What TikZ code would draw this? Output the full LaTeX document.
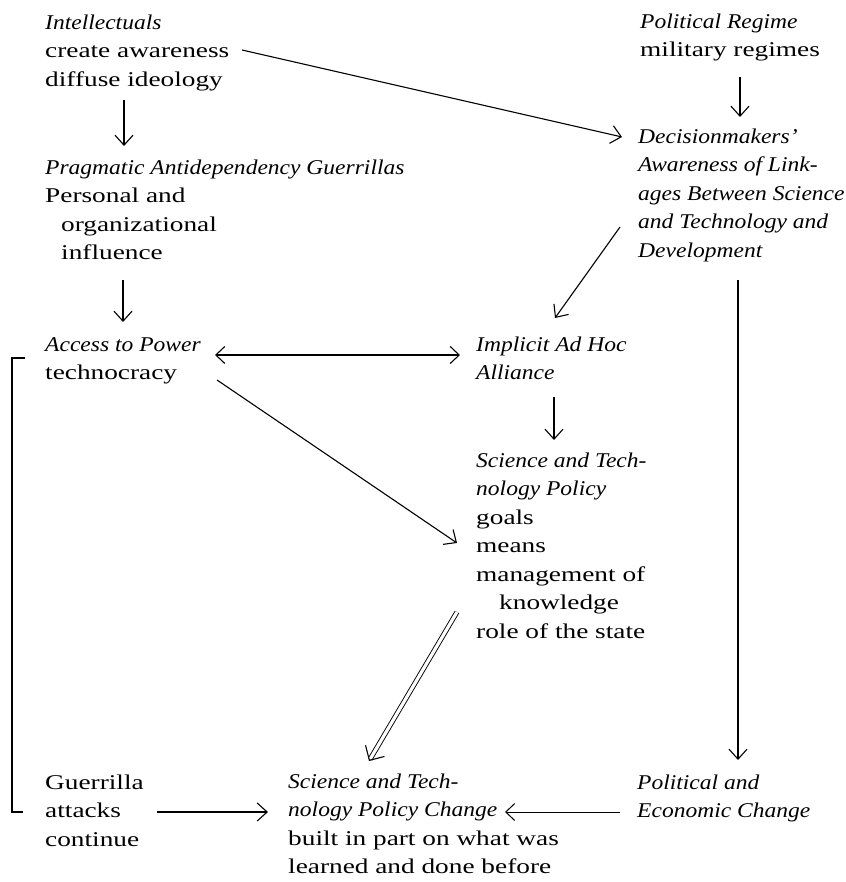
\documentclass[tikz,border=0pt]{standalone}
\usepackage{fontspec}
\setmainfont{Liberation Serif}[UprightFeatures={FakeStretch=1.3},ItalicFeatures={FakeStretch=1.12}]
\usetikzlibrary{arrows.meta,calc}
\newcommand\mystrut{\rule{0pt}{16pt}}
\tikzset{
  txt/.style={anchor=north west, inner sep=0pt, align=left, font=\fontsize{21}{28.5}\selectfont},
  arr/.style={line width=1.1pt, -{Straight Barb[length=10pt,width=18pt,line width=1.1pt]}},
  thinarr/.style={line width=0.7pt, -{Straight Barb[length=9pt,width=17pt,line width=1pt]}},
  dblarr/.style={line width=1.1pt, {Straight Barb[length=9pt,width=17pt,line width=1.1pt]}-{Straight Barb[length=9pt,width=17pt,line width=1.1pt]}},
  dblline/.style={double, double distance=3.2pt, line width=0.9pt},
  bigbarb/.style={line width=1.1pt, -{Straight Barb[length=11pt,width=22pt,line width=1.1pt]}},
  brack/.style={line width=1.2pt}
}
\begin{document}
\begin{tikzpicture}[x=1pt,y=-1pt]
\useasboundingbox (0,0) rectangle (845,882);
\fill[white] (0,0) rectangle (845,882);

% nodes
\node[txt] (intel) at (45,13) {\mystrut\textit{Intellectuals}\\create awareness\\diffuse ideology};
\node[txt] (prag) at (45,158) {\mystrut\textit{Pragmatic Antidependency Guerrillas}\\Personal and\\\hspace*{16pt}organizational\\\hspace*{16pt}influence};
\node[txt] (access) at (45,335) {\mystrut\textit{Access to Power}\\technocracy};
\node[txt] (guer) at (45,773) {\mystrut Guerrilla\\attacks\\continue};
\node[txt] (regime) at (640,12) {\mystrut\textit{Political Regime}\\military regimes};
\node[txt] (dec) at (638,127) {\mystrut\textit{Decisionmakers'}\\\textit{Awareness of Link-}\\\textit{ages Between Science}\\\textit{and Technology and}\\\textit{Development}};
\node[txt] (impl) at (476,335) {\mystrut\textit{Implicit Ad Hoc}\\\textit{Alliance}};
\node[txt] (stp) at (476,451) {\mystrut\textit{Science and Tech-}\\\textit{nology Policy}\\goals\\means\\management of\\\hspace*{23pt}knowledge\\role of the state};
\node[txt] (stc) at (288,772) {\mystrut\textit{Science and Tech-}\\\textit{nology Policy Change}\\built in part on what was\\learned and done before};
\node[txt] (pec) at (637,773) {\mystrut\textit{Political and}\\\textit{Economic Change}};

% connector end points
\coordinate (intelS) at (124,100);
\coordinate (pragN) at (124,146);
\coordinate (pragS) at (123,280);
\coordinate (accessN) at (123,322);
\coordinate (intelE) at (242,50);
\coordinate (decW) at (622,137);
\coordinate (regimeS) at (740,77);
\coordinate (decN) at (740,117);
\coordinate (decSW) at (620,227);
\coordinate (implN) at (555,318);
\coordinate (decS) at (738,280);
\coordinate (pecN) at (738,760);
\coordinate (accessE) at (215,355);
\coordinate (implW) at (460,355);
\coordinate (accessSE) at (217,380);
\coordinate (stpW) at (457,543);
\coordinate (implS) at (554,397);
\coordinate (stpN) at (554,440);
\coordinate (stpSW) at (457,612);
\coordinate (stcN) at (369,761);
\coordinate (guerE) at (157,812);
\coordinate (stcW) at (268,812);
\coordinate (pecW) at (620,812);
\coordinate (stcE) at (505,812);

% connectors
\draw[arr] (intelS) -- (pragN);
\draw[arr] (pragS) -- (accessN);
\draw[arr] (intelE) -- (decW);
\draw[arr] (regimeS) -- (decN);
\draw[arr] (decSW) -- (implN);
\draw[arr] (decS) -- (pecN);
\draw[dblarr] (accessE) -- (implW);
\draw[arr] (accessSE) -- (stpW);
\draw[arr] (implS) -- (stpN);
\draw[dblline] (stpSW) -- ($(stcN)!2pt!(stpSW)$);
\draw[bigbarb] ($(stcN)!1pt!(stpSW)$) -- (stcN);
\draw[arr] (guerE) -- (stcW);
\draw[thinarr] (pecW) -- (stcE);
\draw[brack] (25,358) -- (12,358) -- (12,812) -- (23,812);
\end{tikzpicture}
\end{document}
